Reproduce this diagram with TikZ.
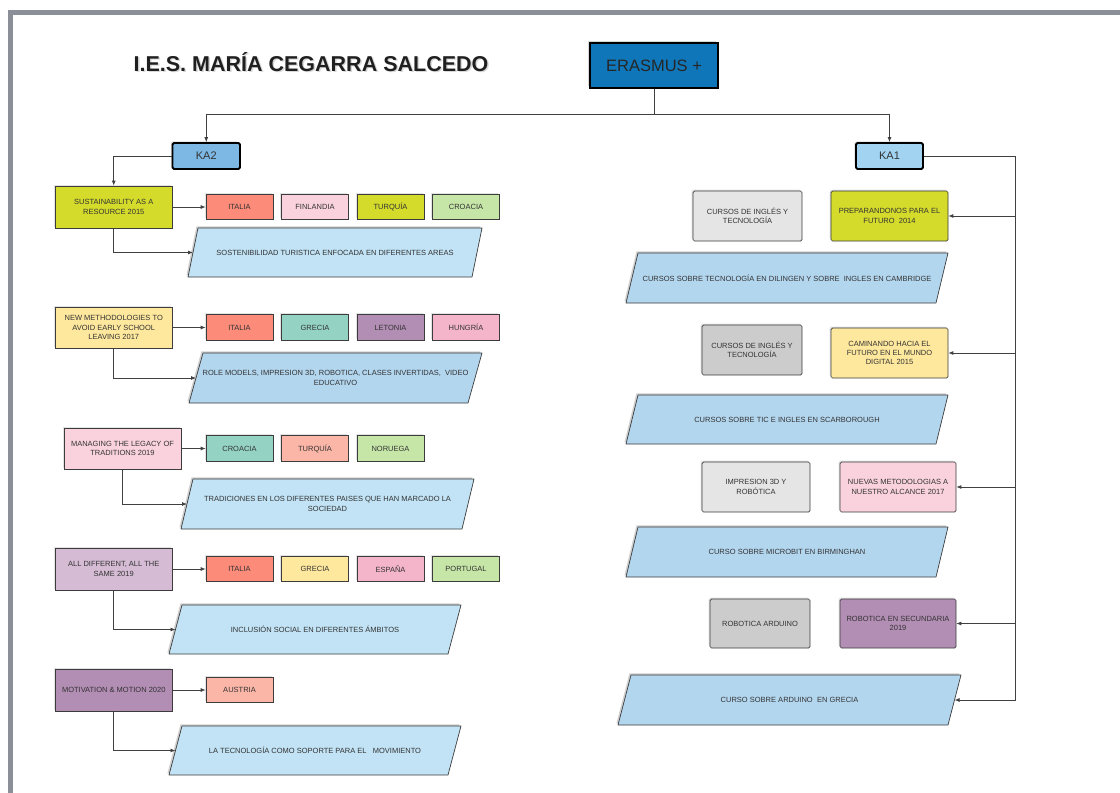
\documentclass[tikz,border=0pt]{standalone}
\usepackage{fontspec}
\setmainfont{Liberation Sans}
\usetikzlibrary{arrows.meta,shadows}
\definecolor{framegray}{HTML}{8B9098}
\definecolor{edgec}{HTML}{3C3C3C}
\definecolor{linec}{HTML}{404040}
\definecolor{txt}{HTML}{333333}
\definecolor{erasmusc}{HTML}{0F77B9}
\definecolor{katwo}{HTML}{7DB8E4}
\definecolor{kaone}{HTML}{A2D4F2}
\definecolor{clime}{HTML}{D4DB2B}
\definecolor{csalmon}{HTML}{FC8B7A}
\definecolor{lsalmon}{HTML}{FCB6A8}
\definecolor{lpink}{HTML}{F9D2DE}
\definecolor{cpink}{HTML}{F4B5CB}
\definecolor{lgreen}{HTML}{C6E6A8}
\definecolor{lyellow}{HTML}{FEE89D}
\definecolor{cteal}{HTML}{94D3C4}
\definecolor{purp}{HTML}{B28DB4}
\definecolor{lilac}{HTML}{D5BBD4}
\definecolor{lblue}{HTML}{C1E3F5}
\definecolor{mblue}{HTML}{B3D6EF}
\definecolor{lgray}{HTML}{E5E5E5}
\definecolor{mgray}{HTML}{CCCCCC}
\newcommand\smallfont{\fontsize{7.5}{9.3}\selectfont}
% name, xTL, xTR, yT, yB, slant, fill, text
\newcommand\pgram[8]{%
  \fill[black,opacity=0.18] ({#2-1.6},{#4-1.6}) -- ({#3-1.6},{#4-1.6}) -- ({#3-#6-1.6},{#5-1.6}) -- ({#2-#6-1.6},{#5-1.6}) -- cycle;
  \draw[fill=#7,draw=edgec,line width=0.7pt,line join=round] (#2,#4) -- (#3,#4) -- ({#3-#6},#5) -- ({#2-#6},#5) -- cycle;
  \coordinate (#1-w) at ({#2-#6/2},{(#4+#5)/2});
  \coordinate (#1-e) at ({#3-#6/2},{(#4+#5)/2});
  \node[ptext] (#1) at ({(#2+#3-#6)/2},{(#4+#5)/2}) {#8};
}
\begin{document}
\begin{tikzpicture}[x=1pt,y=-1pt,
  base/.style={draw=edgec,line width=0.7pt,text=txt,align=center,inner sep=1pt,
    font=\smallfont,
    drop shadow={shadow xshift=-1.4pt,shadow yshift=1.4pt,opacity=0.22}},
  sz/.style 2 args={minimum width=#1pt,minimum height=#2pt},
  rbox/.style={base,rounded corners=1.5pt},
  ptext/.style={text=txt,align=center,font=\smallfont,inner sep=0pt},
  kabox/.style={draw=black,line width=1.8pt,rounded corners=1.5pt,text=txt,font=\fontsize{11}{13}\selectfont,
    drop shadow={shadow xshift=-1.6pt,shadow yshift=1.6pt,opacity=0.25}},
  ln/.style={draw=linec,line width=0.8pt},
  arr/.style={draw=linec,line width=0.8pt,-{Latex[length=5pt,width=4pt]}}]
\useasboundingbox (0,0) rectangle (1120,793);
\fill[white] (0,0) rectangle (1120,793);
\fill[framegray] (8,10) rectangle (1120,15);
\fill[framegray] (8,10) rectangle (13,793);

% title
\node[anchor=base,text=black!15,font=\bfseries\fontsize{21.5}{24}\selectfont] at (312.5,72.5) {I.E.S. MARÍA CEGARRA SALCEDO};
\node[anchor=base,text=black!88,font=\bfseries\fontsize{21.5}{24}\selectfont] (title) at (311,71) {I.E.S. MARÍA CEGARRA SALCEDO};

% top level
\node[draw=black,line width=1.8pt,fill=erasmusc,sz={128}{45},text=black!85,font=\fontsize{16.5}{19}\selectfont,
  drop shadow={shadow xshift=-1.8pt,shadow yshift=1.8pt,opacity=0.3}] (erasmus) at (654,65.5) {ERASMUS +};
\node[kabox,fill=katwo,sz={67.5}{26}] (ka2) at (206.25,156) {KA2};
\node[kabox,fill=kaone,sz={67}{26}] (ka1) at (889.5,156) {KA1};

% left column
\node[base,fill=clime,sz={117.5}{42}] (sust) at (113.75,207) {SUSTAINABILITY AS A\\RESOURCE 2015};
\node[base,fill=csalmon,sz={67}{25}] (r1a) at (239.5,207) {ITALIA};
\node[base,fill=lpink,sz={67}{25}] (r1b) at (315,207) {FINLANDIA};
\node[base,fill=clime,sz={67}{25}] (r1c) at (390.5,207) {TURQUÍA};
\node[base,fill=lgreen,sz={67}{25}] (r1d) at (466,207) {CROACIA};
\pgram{p1}{198}{482}{228}{277}{10}{lblue}{SOSTENIBILIDAD TURISTICA ENFOCADA EN DIFERENTES AREAS}

\node[base,fill=lyellow,sz={117.5}{41}] (meth) at (113.75,327.5) {NEW METHODOLOGIES TO\\AVOID EARLY SCHOOL\\LEAVING 2017};
\node[base,fill=csalmon,sz={67}{26}] (r2a) at (239.5,327.5) {ITALIA};
\node[base,fill=cteal,sz={67}{26}] (r2b) at (315,327.5) {GRECIA};
\node[base,fill=purp,sz={67}{26}] (r2c) at (390.5,327.5) {LETONIA};
\node[base,fill=cpink,sz={67}{26}] (r2d) at (466,327.5) {HUNGRÍA};
\pgram{p2}{203}{482}{353}{403}{14}{mblue}{ROLE MODELS, IMPRESION 3D, ROBOTICA, CLASES INVERTIDAS,~ VIDEO\\EDUCATIVO}

\node[base,fill=lpink,sz={117}{41}] (manag) at (122.5,448.5) {MANAGING THE LEGACY OF\\TRADITIONS 2019};
\node[base,fill=cteal,sz={67}{26}] (r3a) at (239.5,448.5) {CROACIA};
\node[base,fill=lsalmon,sz={67}{26}] (r3b) at (315,448.5) {TURQUÍA};
\node[base,fill=lgreen,sz={67}{26}] (r3c) at (390.5,448.5) {NORUEGA};
\pgram{p3}{193}{474}{479}{529}{12}{lblue}{TRADICIONES EN LOS DIFERENTES PAISES QUE HAN MARCADO LA\\SOCIEDAD}

\node[base,fill=lilac,sz={117.5}{42}] (alld) at (113.75,569) {ALL DIFFERENT, ALL THE\\SAME 2019};
\node[base,fill=csalmon,sz={67}{25}] (r4a) at (239.5,569) {ITALIA};
\node[base,fill=lyellow,sz={67}{25}] (r4b) at (315,569) {GRECIA};
\node[base,fill=cpink,sz={67}{25}] (r4c) at (390.5,569) {ESPAÑA};
\node[base,fill=lgreen,sz={67}{25}] (r4d) at (466,569) {PORTUGAL};
\pgram{p4}{182}{461}{605}{654}{13}{lblue}{INCLUSIÓN SOCIAL EN DIFERENTES ÁMBITOS}

\node[base,fill=purp,sz={117.5}{42}] (motiv) at (113.75,690) {MOTIVATION \& MOTION 2020};
\node[base,fill=lsalmon,sz={67}{25}] (r5a) at (239.5,690) {AUSTRIA};
\pgram{p5}{182}{461}{726}{775}{13}{lblue}{LA TECNOLOGÍA COMO SOPORTE PARA EL~~ MOVIMIENTO}

% right column
\node[rbox,fill=lgray,sz={109}{50}] (cur1) at (747.5,216) {CURSOS DE INGLÉS Y\\TECNOLOGÍA};
\node[rbox,fill=clime,sz={117}{50}] (prep) at (889.5,216) {PREPARANDONOS PARA EL\\FUTURO~ 2014};
\pgram{q1}{638}{948}{253}{303}{12}{mblue}{CURSOS SOBRE TECNOLOGÍA EN DILINGEN Y SOBRE~ INGLES EN CAMBRIDGE}

\node[rbox,fill=mgray,sz={100}{50}] (cur2) at (752,350) {CURSOS DE INGLÉS Y\\TECNOLOGÍA};
\node[rbox,fill=lyellow,sz={117}{50}] (cam) at (889.5,353) {CAMINANDO HACIA EL\\FUTURO EN EL MUNDO\\DIGITAL 2015};
\pgram{q2}{638}{948}{395}{444}{12}{mblue}{CURSOS SOBRE TIC E INGLES EN SCARBOROUGH}

\node[rbox,fill=lgray,sz={108}{50}] (imp) at (756,487) {IMPRESION 3D Y\\ROBÓTICA};
\node[rbox,fill=lpink,sz={116}{50}] (nuev) at (898,487) {NUEVAS METODOLOGIAS A\\NUESTRO ALCANCE 2017};
\pgram{q3}{638}{948}{527}{577}{12}{mblue}{CURSO SOBRE MICROBIT EN BIRMINGHAN}

\node[rbox,fill=mgray,sz={100}{49}] (robard) at (760,623.5) {ROBOTICA ARDUINO};
\node[rbox,fill=purp,sz={116}{49}] (robsec) at (898,623.5) {ROBOTICA EN SECUNDARIA\\2019};
\pgram{q4}{631}{961}{675}{725}{13}{mblue}{CURSO SOBRE ARDUINO~ EN GRECIA}

% connectors
\coordinate (split) at (654,114);
\draw[ln] (erasmus.south) -- (split);
\draw[arr] (split) -| (ka2.north);
\draw[arr] (split) -| (ka1.north);
\draw[arr] (ka2.west) -| (sust.north);

\draw[arr] (sust.east) -- (r1a.west);
\draw[arr] (sust.south) |- (p1-w);
\draw[arr] (meth.east) -- (r2a.west);
\draw[arr] (meth.south) |- (p2-w);
\draw[arr] (manag.east) -- (r3a.west);
\draw[arr] (manag.south) |- (p3-w);
\draw[arr] (alld.east) -- (r4a.west);
\draw[arr] (alld.south) |- (p4-w);
\draw[arr] (motiv.east) -- (r5a.west);
\draw[arr] (motiv.south) |- (p5-w);

\coordinate (railend) at (1015,700);
\draw[arr] (ka1.east) -| (railend) -- (q4-e);
\draw[arr] (railend |- prep.east) -- (prep.east);
\draw[arr] (railend |- cam.east) -- (cam.east);
\draw[arr] (railend |- nuev.east) -- (nuev.east);
\draw[arr] (railend |- robsec.east) -- (robsec.east);
\end{tikzpicture}
\end{document}
